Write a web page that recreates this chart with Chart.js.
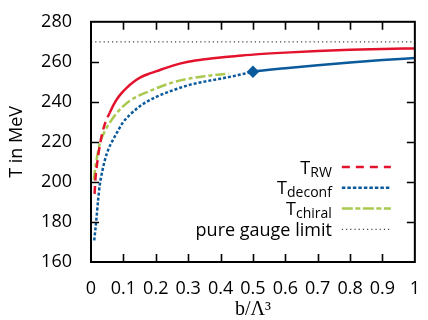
<!DOCTYPE html>
<html>
<head>
<meta charset="utf-8">
<script src="https://cdn.jsdelivr.net/npm/chart.js@4"></script>
<style>
  html, body { margin: 0; padding: 0; background: #fff; }
  #wrap { width: 428px; height: 320px; }
</style>
</head>
<body>
<div id="wrap"><canvas id="chartContainer"></canvas></div>
<script>
// tick labels
var xTicks = [0, 0.1, 0.2, 0.3, 0.4, 0.5, 0.6, 0.7, 0.8, 0.9, 1];
var yTicks = [160, 180, 200, 220, 240, 260, 280];

// T_RW (dashed at small b, solid afterwards)
var rwX = [0.011, 0.014, 0.018, 0.023, 0.028, 0.035, 0.045, 0.058, 0.07, 0.08, 0.093, 0.11, 0.13, 0.15, 0.175, 0.2, 0.25, 0.3, 0.35, 0.4, 0.45, 0.5, 0.6, 0.7, 0.8, 0.9, 1.0];
var rwT = [194, 202, 208, 214, 219, 224.5, 230, 234.6, 238.6, 241.3, 244.1, 247, 249.8, 252, 253.8, 255.2, 258, 260, 261.3, 262.2, 262.9, 263.6, 264.6, 265.4, 266, 266.4, 266.7];

// T_deconf (dotted up to the diamond at b = 0.5, solid afterwards)
var deconfX = [0.01, 0.014, 0.017, 0.022, 0.027, 0.035, 0.043, 0.055, 0.067, 0.08, 0.098, 0.12, 0.149, 0.175, 0.2, 0.25, 0.3, 0.35, 0.4, 0.45, 0.5, 0.6, 0.7, 0.8, 0.9, 1.0];
var deconfT = [170.8, 177, 182, 191, 198.4, 205.5, 211, 216.8, 220.8, 224.6, 229.6, 233.5, 237.6, 240.3, 242.4, 245.6, 248.3, 250.1, 251.6, 253.2, 255, 256.8, 258.3, 259.7, 260.9, 261.9];

// T_chiral
var chiralX = [0.009, 0.012, 0.016, 0.021, 0.026, 0.032, 0.043, 0.058, 0.075, 0.098, 0.12, 0.149, 0.175, 0.2, 0.25, 0.3, 0.35, 0.4, 0.425];
var chiralT = [201, 205.5, 210, 214.5, 218.5, 221.5, 225.5, 229.6, 233.5, 237.6, 240.6, 243.2, 245, 246.7, 249.6, 251.5, 252.8, 253.7, 254.1];

// pure gauge limit
var gaugeX = [0, 1];
var gaugeT = [270, 270];

var markerX = 0.5; // diamond on T_deconf

function pts(xs, ys) {
    return xs.map(function (v, i) { return { x: v, y: ys[i] }; });
}

var red = '#e3132d', blue = '#0b5a9b', green = '#a9c94f', gray = '#444';
var font = '"Open Sans", "Noto Sans", sans-serif';

// inward ticks on all four sides plus the box
var framePlugin = {
    id: 'frame',
    afterDatasetsDraw: function (chart) {
        var ctx = chart.ctx, a = chart.chartArea, sx = chart.scales.x, sy = chart.scales.y;
        ctx.save();
        ctx.strokeStyle = '#000';
        ctx.lineWidth = 1.6;
        ctx.beginPath();
        xTicks.slice(1, -1).forEach(function (v) {
            var px = Math.round(sx.getPixelForValue(v)) + 0.5;
            ctx.moveTo(px, a.bottom); ctx.lineTo(px, a.bottom - 8);
            ctx.moveTo(px, a.top); ctx.lineTo(px, a.top + 8);
        });
        yTicks.slice(1, -1).forEach(function (v) {
            var py = Math.round(sy.getPixelForValue(v)) + 0.5;
            ctx.moveTo(a.left, py); ctx.lineTo(a.left + 8, py);
            ctx.moveTo(a.right, py); ctx.lineTo(a.right - 8, py);
        });
        ctx.stroke();
        ctx.lineWidth = 2;
        ctx.strokeRect(a.left, a.top, a.width, a.height);
        ctx.restore();
    }
};

// legend with subscripts, drawn inside the plot
var legendPlugin = {
    id: 'subLegend',
    afterDraw: function (chart) {
        var ctx = chart.ctx, a = chart.chartArea;
        var textRight = a.right - 83, x0 = a.right - 73, x1 = a.right - 24;
        var yRow = a.bottom - 95;
        ctx.save();
        chart.data.datasets.forEach(function (d) {
            if (!d.legendMain) return;
            ctx.strokeStyle = d.borderColor;
            ctx.lineWidth = d.legendWidth;
            ctx.setLineDash(d.legendDash);
            ctx.beginPath();
            ctx.moveTo(x0, yRow); ctx.lineTo(x1, yRow);
            ctx.stroke();
            ctx.setLineDash([]);
            ctx.fillStyle = '#000';
            ctx.textAlign = 'right';
            ctx.textBaseline = 'alphabetic';
            var r = textRight;
            if (d.legendSub) {
                ctx.font = '14px ' + font;
                ctx.fillText(d.legendSub, r, yRow + 9.5);
                r -= ctx.measureText(d.legendSub).width;
            }
            ctx.font = '18px ' + font;
            ctx.fillText(d.legendMain, r, yRow + 6.5);
            yRow += 20.8;
        });
        ctx.restore();
    }
};

var ctx = document.getElementById('chartContainer').getContext('2d');

var chart = new Chart(ctx, {
    type: 'line',
    data: {
        datasets: [{
            label: 'T_RW',
            legendMain: 'T', legendSub: 'RW', legendDash: [8, 6], legendWidth: 2.5,
            data: pts(rwX, rwT),
            borderColor: red,
            borderWidth: 2.5,
            segment: {
                borderDash: function (c) { return c.p1.parsed.x <= 0.058 ? [8, 5] : undefined; }
            }
        }, {
            label: 'T_deconf',
            legendMain: 'T', legendSub: 'deconf', legendDash: [3.5, 2], legendWidth: 2.5,
            data: pts(deconfX, deconfT),
            borderColor: blue,
            backgroundColor: blue,
            borderWidth: 2.5,
            pointStyle: 'rectRot',
            pointRadius: function (c) { return c.raw && c.raw.x === markerX ? 4.5 : 0; },
            pointHoverRadius: 0,
            segment: {
                borderDash: function (c) { return c.p1.parsed.x <= markerX ? [3, 2] : undefined; }
            }
        }, {
            label: 'T_chiral',
            legendMain: 'T', legendSub: 'chiral', legendDash: [11, 2.5, 5, 2.5], legendWidth: 2.5,
            data: pts(chiralX, chiralT),
            borderColor: green,
            borderWidth: 2.5,
            borderDash: [10, 3, 4, 3]
        }, {
            label: 'pure gauge limit',
            legendMain: 'pure gauge limit', legendSub: '', legendDash: [1.2, 3], legendWidth: 1.2,
            data: pts(gaugeX, gaugeT),
            borderColor: gray,
            borderWidth: 1.2,
            borderDash: [1.2, 3]
        }]
    },
    options: {
        responsive: true,
        maintainAspectRatio: false,
        animation: false,
        events: [],
        layout: { padding: { top: 15, right: 8, left: 0, bottom: 0 } },
        elements: {
            point: { radius: 0 },
            line: { cubicInterpolationMode: 'monotone', borderJoinStyle: 'round' }
        },
        plugins: {
            legend: { display: false },
            tooltip: { enabled: false }
        },
        scales: {
            x: {
                type: 'linear',
                min: 0, max: 1,
                afterBuildTicks: function (s) { s.ticks = xTicks.map(function (v) { return { value: v }; }); },
                afterFit: function (s) { s.height = 58; },
                grid: { display: false },
                border: { display: false },
                ticks: {
                    color: '#000', padding: 8, maxRotation: 0, autoSkip: false,
                    font: { family: font, size: 18 },
                    callback: function (v) { return String(v); }
                },
                title: {
                    display: true, text: 'b/Λ³', color: '#000',
                    font: { family: '"Liberation Serif", "DejaVu Serif", serif', size: 20, lineHeight: 1 },
                    padding: { top: 0, bottom: 0 }
                }
            },
            y: {
                min: 160, max: 280,
                afterBuildTicks: function (s) { s.ticks = yTicks.map(function (v) { return { value: v }; }); },
                afterFit: function (s) { s.width = 91; },
                grid: { display: false },
                border: { display: false },
                ticks: {
                    color: '#000', padding: 11, autoSkip: false,
                    font: { family: font, size: 18 }
                },
                title: {
                    display: true, text: 'T in MeV', color: '#000',
                    font: { family: font, size: 18 },
                    padding: { top: 6, bottom: 0 }
                }
            }
        }
    },
    plugins: [framePlugin, legendPlugin]
});
</script>
</body>
</html>
